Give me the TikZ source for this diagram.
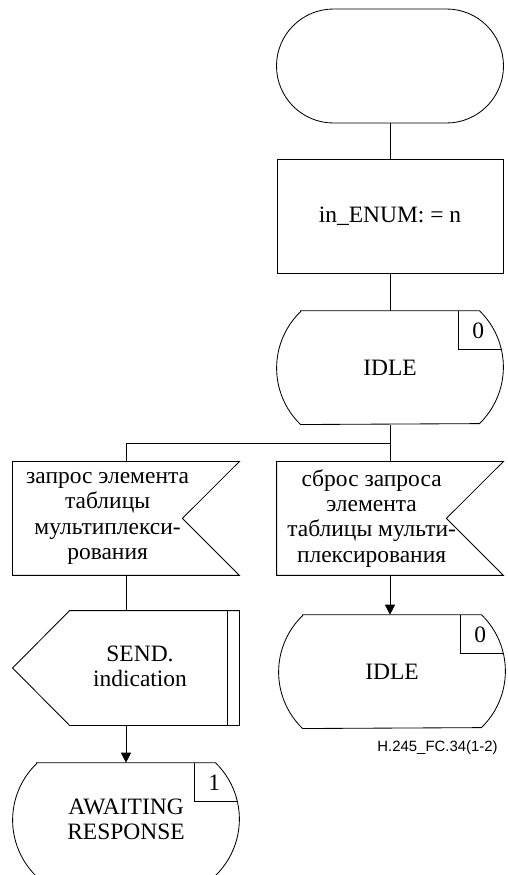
\documentclass[tikz,border=0pt]{standalone}
\usepackage{fontspec}
\setmainfont{Liberation Serif}
\newfontfamily\figidfont{Liberation Sans}
\usetikzlibrary{calc, positioning, arrows.meta}
\newcommand\sdlfont{\fontsize{16.7}{18}\selectfont}
\tikzset{
  sdl/.style={inner sep=0pt, minimum width=5.65cm, minimum height=2.825cm, font=\sdlfont, align=center},
  sdltext/.style={inner sep=0pt, font=\sdlfont, align=center},
  flowarrow/.style={-{Triangle[length=0.25cm, width=0.25cm]}}
}

\begin{document}
\begin{tikzpicture}[line width=0.6pt]
  \useasboundingbox (0,0) rectangle (12.7,-21.875);
  \clip (0,0) rectangle (12.7,-21.875);

  \node[sdl, draw, minimum width=5.675cm, minimum height=2.85cm, rounded corners=1.425cm] (start) at (9.75,-1.65) {};
  \node[sdl, draw, minimum height=2.85cm] (enum) at (9.75,-5.4) {in\_ENUM: = n};

  \foreach \nm/\x/\y/\num/\txt in {
    idle/9.75/-9.19/0/IDLE,
    idle2/9.8/-16.79/0/IDLE,
    wait/3.15/-20.49/1/{AWAITING\\RESPONSE}} {
    \node[sdl] (\nm) at (\x,\y) {\txt};
    \draw ([xshift=0.6cm]\nm.north west) -- ([xshift=-0.6cm]\nm.north east)
      arc[start angle=46, end angle=-46, radius=1.9625cm] -- ([xshift=0.6cm]\nm.south west)
      arc[start angle=226, end angle=134, radius=1.9625cm] -- cycle;
    \draw ([xshift=-1.125cm]\nm.north east) |- ([xshift=-0.05cm, yshift=-0.975cm]\nm.north east);
    \node[sdltext] (\nm-num) at ([xshift=-0.63cm, yshift=-0.5cm]\nm.north east) {\num};
  }

  \foreach \nm/\x/\txt in {
    req/3.15/{запрос элемента\\таблицы\\мультиплекси-\\рования},
    reset/9.75/{сброс запроса\\элемента\\таблицы мульти-\\плексирования}} {
    \node[sdl] (\nm) at (\x,-12.96) {};
    \draw (\nm.north west) -- (\nm.north east) -- ([xshift=-1.425cm]\nm.east)
      -- (\nm.south east) -- (\nm.south west) -- cycle;
    \node[sdltext] (\nm-txt) at ([xshift=-0.46cm]\nm.center) {\txt};
  }

  \node[sdl, minimum height=2.85cm] (send) at (3.15,-16.7) {};
  \draw ([xshift=1.425cm]send.north west) -- (send.north east) -- (send.south east)
    -- ([xshift=1.425cm]send.south west) -- (send.west) -- cycle;
  \draw ([xshift=-0.3cm]send.north east) -- ([xshift=-0.3cm]send.south east);
  \node[sdltext] (send-txt) at ([xshift=0.35cm, yshift=0.05cm]send.center) {SEND.\\indication};

  \draw (start) -- (enum);
  \draw (enum) -- (idle);
  \coordinate (split) at ($(idle.south)+(0,-0.475)$);
  \draw (idle) -- (reset);
  \draw (split) -| (req);
  \draw (req) -- (send);
  \draw[flowarrow] (send) -- (wait);
  \draw[flowarrow] (reset.south) -- (reset.south |- idle2.north);

  \node[font=\figidfont\fontsize{10.6}{12}\selectfont, anchor=east, inner sep=0pt] (figid) at (12.45,-18.68) {H.245\_FC.34(1-2)};
\end{tikzpicture}
\end{document}
